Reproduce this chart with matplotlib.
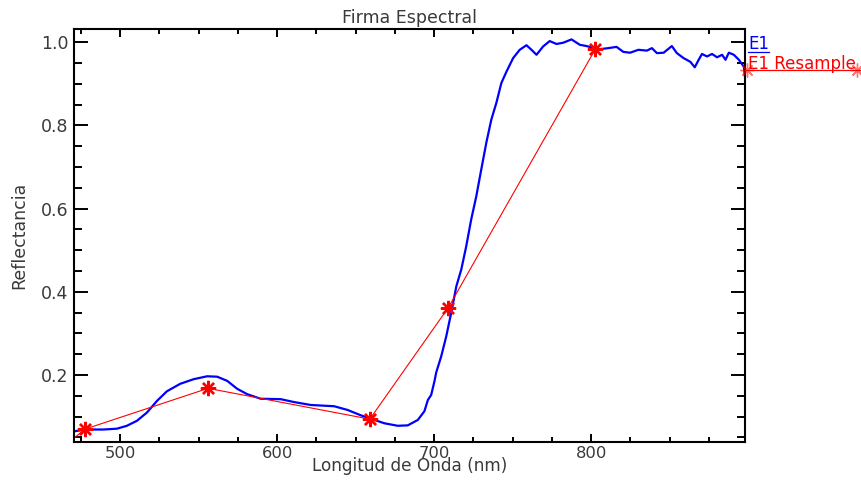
import matplotlib
matplotlib.use("Agg")
import matplotlib.pyplot as plt
from matplotlib.ticker import MultipleLocator, FormatStrFormatter
from matplotlib.lines import Line2D

# Field spectrum E1 (wavelength in nm, reflectance)
e1_wavelength = [471.2, 476.5, 483.0, 489.3, 497.9, 504.3, 510.7, 517.1, 523.5, 529.8,
                 538.3, 546.8, 555.4, 561.8, 568.2, 574.5, 580.9, 589.5, 602.2, 610.8,
                 621.4, 636.3, 644.9, 653.4, 659.7, 668.3, 676.8, 683.2, 689.6, 693.8,
                 696.0, 698.1, 700.2, 701.3, 704.5, 707.7, 710.9, 714.1, 717.3, 720.4,
                 723.6, 726.8, 730.0, 733.2, 736.4, 739.6, 742.8, 746.0, 750.3, 754.5,
                 758.8, 762.0, 765.2, 769.4, 773.6, 777.9, 782.2, 787.5, 792.8, 797.1,
                 804.5, 810.9, 816.2, 820.5, 824.8, 830.1, 835.5, 838.7, 841.9, 846.2,
                 851.4, 854.6, 858.9, 863.2, 866.0, 868.5, 870.6, 873.8, 877.0, 880.2,
                 883.4, 885.6, 887.7, 890.9, 894.1, 897.3, 898.5]
e1_reflectance = [0.065, 0.068, 0.069, 0.069, 0.071, 0.078, 0.090, 0.110, 0.138, 0.161,
                  0.179, 0.190, 0.197, 0.196, 0.186, 0.167, 0.154, 0.143, 0.142, 0.135,
                  0.128, 0.125, 0.116, 0.103, 0.095, 0.084, 0.078, 0.079, 0.092, 0.113,
                  0.140, 0.152, 0.185, 0.206, 0.245, 0.293, 0.350, 0.413, 0.454, 0.509,
                  0.574, 0.629, 0.694, 0.758, 0.814, 0.854, 0.902, 0.929, 0.962, 0.982,
                  0.993, 0.982, 0.970, 0.990, 1.003, 0.996, 0.999, 1.007, 0.994, 0.991,
                  0.983, 0.986, 0.989, 0.977, 0.975, 0.982, 0.980, 0.986, 0.974, 0.975,
                  0.991, 0.974, 0.962, 0.953, 0.940, 0.958, 0.972, 0.966, 0.972, 0.964,
                  0.970, 0.958, 0.975, 0.970, 0.958, 0.941, 0.900]

# E1 resampled to the sensor band centres
resample_wavelength = [455.0, 477.6, 556.0, 659.0, 709.0, 802.6]
resample_reflectance = [0.000, 0.070, 0.168, 0.094, 0.362, 0.983]

x_major = [500, 600, 700, 800]
y_major = [0.2, 0.4, 0.6, 0.8, 1.0]

title = "Firma Espectral"
xlabel = "Longitud de Onda (nm)"
ylabel = "Reflectancia"
legend_names = ["E1", "E1 Resample"]

text_color = "#3a3a3a"
blue = "#0000ff"
red = "#ff0000"
asterisk = (8, 2, 0)

plt.rcParams["font.family"] = ["DejaVu Sans"]

fig = plt.figure(figsize=(8.61, 4.80), dpi=100)
ax = fig.add_axes([74 / 861, 38 / 480, 671 / 861, 413 / 480])

ax.plot(e1_wavelength, e1_reflectance, color=blue, lw=1.6, solid_joinstyle="round")
ax.plot(resample_wavelength, resample_reflectance, color=red, lw=0.8,
        marker=asterisk, markersize=11, markeredgewidth=1.7,
        markeredgecolor=red)

ax.set_xlim(470.6, 898.0)
ax.set_ylim(0.039, 1.032)

ax.set_xticks(x_major)
ax.set_yticks(y_major)
ax.xaxis.set_minor_locator(MultipleLocator(25))
ax.yaxis.set_minor_locator(MultipleLocator(0.05))
ax.yaxis.set_major_formatter(FormatStrFormatter("%.1f"))

for s in ax.spines.values():
    s.set_linewidth(1.5)
    s.set_color("black")

ax.tick_params(axis="both", which="both", direction="in", width=1.4,
               colors="black", labelcolor=text_color, labelsize=12.5,
               top=True, right=True, pad=4.0)
ax.tick_params(axis="x", which="major", labelsize=11.8, pad=2.6)
ax.tick_params(axis="y", which="major", length=10)
ax.tick_params(axis="y", which="minor", length=5.5)
ax.tick_params(axis="x", which="major", length=6)
ax.tick_params(axis="x", which="minor", length=3.6)

ax.set_title(title, fontsize=12.5, color=text_color, pad=4)
ax.set_xlabel(xlabel, fontsize=12.2, color=text_color, labelpad=-2.4)
ax.set_ylabel(ylabel, fontsize=12.5, color=text_color, labelpad=9)

# Legend drawn to the right of the plot area
fig.text(748 / 861, (480 - 49) / 480, legend_names[0], color=blue,
         fontsize=12, ha="left", va="baseline")
fig.add_artist(Line2D([748 / 861, 769 / 861], [(480 - 52) / 480] * 2,
                      color=blue, lw=0.9, transform=fig.transFigure))
fig.text(748 / 861, (480 - 69) / 480, legend_names[1], color=red,
         fontsize=12, ha="left", va="baseline")
fig.add_artist(Line2D([745 / 861, 860 / 861], [(480 - 70) / 480] * 2,
                      color=red, lw=0.9, transform=fig.transFigure))
fig.add_artist(Line2D([747 / 861, 857 / 861], [(480 - 70) / 480] * 2,
                      color=red, lw=0, marker=asterisk, markersize=10,
                      markeredgewidth=1.0, alpha=0.55,
                      transform=fig.transFigure))

fig.savefig("out.png", dpi=100)
